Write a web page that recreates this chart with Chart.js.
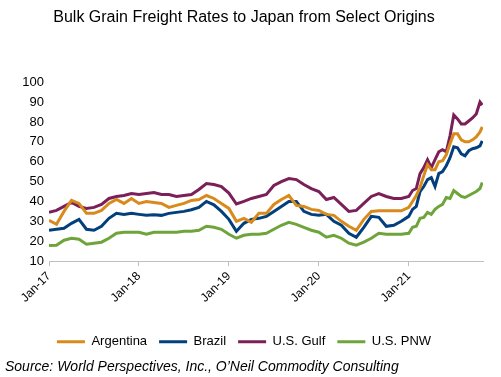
<!DOCTYPE html>
<html>
<head>
<meta charset="utf-8">
<script src="https://cdn.jsdelivr.net/npm/chart.js@4.4.1/dist/chart.umd.min.js"></script>
<style>
  html, body { margin: 0; padding: 0; background: #fff; }
  #wrap { width: 501px; height: 377px; }
</style>
</head>
<body>
<div id="wrap"><canvas id="myChart"></canvas></div>
<script>
// observation dates (monthly to end-2020, then twice a month)
var dates = [
    '2017-01-01','2017-02-01','2017-03-01','2017-04-01','2017-05-01','2017-06-01','2017-07-01','2017-08-01','2017-09-01','2017-10-01','2017-11-01','2017-12-01',
    '2018-01-01','2018-02-01','2018-03-01','2018-04-01','2018-05-01','2018-06-01','2018-07-01','2018-08-01','2018-09-01','2018-10-01','2018-11-01','2018-12-01',
    '2019-01-01','2019-02-01','2019-03-01','2019-04-01','2019-05-01','2019-06-01','2019-07-01','2019-08-01','2019-09-01','2019-10-01','2019-11-01','2019-12-01',
    '2020-01-01','2020-02-01','2020-03-01','2020-04-01','2020-05-01','2020-06-01','2020-07-01','2020-08-01','2020-09-01','2020-10-01','2020-11-01','2020-12-01',
    '2021-01-01','2021-01-16','2021-02-01','2021-02-16','2021-03-01','2021-03-16','2021-04-01','2021-04-16','2021-05-01','2021-05-16',
    '2021-06-01','2021-06-16','2021-07-01','2021-07-16','2021-08-01','2021-08-16','2021-09-01','2021-09-16','2021-10-01','2021-10-16','2021-10-25'
];

var argentina = [
    30.5, 28.5, 35, 40.5, 39, 34, 34, 35.5, 39, 41, 39, 41.5,
    39, 40, 39.5, 39, 37, 38, 39, 40.5, 41, 43, 41.5, 39,
    36.5, 30, 31.5, 29.5, 34, 34, 38.5, 41, 43, 38, 37.5, 36,
    35.5, 33.5, 33, 30, 27.5, 25.5, 31, 35, 35.3, 35.3, 35.3, 35.3,
    37, 40, 43, 47, 53, 58.5, 56, 56, 60, 60.5, 63.5, 69, 74, 74, 71, 70, 70, 71, 72.5, 75, 77.5
];
var brazil = [
    25.5, 26, 26.5, 29, 31, 26, 25.5, 27.5, 31.5, 34, 33.5, 34,
    33.5, 33, 33.3, 33, 34, 34.5, 35, 35.8, 37, 40, 38.3, 35,
    31, 25, 29, 31, 31.5, 32.5, 35, 37.5, 40, 40, 35, 33.5,
    33, 33.5, 30, 28, 24, 22, 27, 32.5, 32, 27.5, 28, 30,
    32.5, 36, 37.5, 45, 47.5, 51, 52, 47.5, 54, 55, 58, 62, 67.5, 67, 64, 63, 65.5, 66.5, 67, 68, 70.5
];
var usGulf = [
    34.6, 35.5, 37.5, 39.5, 37.5, 36.5, 37, 38.5, 41.5, 42.5, 43, 44,
    43.5, 44, 44.5, 43.5, 43.5, 42.5, 43, 43.5, 46, 49, 48.5, 47.5,
    44.2, 38.7, 40, 41.5, 42.5, 43.5, 48, 50, 51.5, 51, 48.5, 46.5,
    45, 41, 42, 38.5, 35, 35.5, 39, 42.5, 44, 42.5, 41.5, 41.5,
    42.5, 45.5, 46.5, 54, 57, 61, 57, 61, 65, 66, 65, 73, 83.5, 81.5, 79, 79, 80.5, 82, 84, 90, 88.5
];
var usPnw = [
    17.8, 18, 20.5, 21.5, 21, 18.5, 19, 19.5, 21.5, 24, 24.5, 24.5,
    24.5, 23.5, 24.5, 24.5, 24.5, 24.5, 25, 25, 25.5, 27.5, 27, 26,
    23.5, 21.5, 23, 23.5, 23.5, 24, 26, 28, 29.5, 28.5, 27, 25.5,
    24.5, 22, 23, 21.5, 19, 18, 19.5, 21.5, 24, 23.5, 23.5, 23.5,
    24, 27, 27.5, 31.5, 32, 34.5, 33.5, 36, 37.5, 38.5, 42, 41.5, 45.5, 44, 42.5, 42, 43, 44, 45, 46.5, 49.5
];

var seriesNames = ['Argentina', 'Brazil', 'U.S. Gulf', 'U.S. PNW'];
var seriesColors = ['#D88B1C', '#023F7C', '#7A1F58', '#6EA43A'];
var yTicks = [10, 20, 30, 40, 50, 60, 70, 80, 90, 100];

// months since Jan-2017
function monthPos(d) {
    var p = d.split('-');
    return (+p[0] - 2017) * 12 + (+p[1] - 1) + (+p[2] - 1) / 30;
}

function toPoints(values) {
    return values.map(function (v, i) { return { x: monthPos(dates[i]), y: v }; });
}

var font = "Arial, 'Liberation Sans', sans-serif";

var ctx = document.getElementById('myChart').getContext('2d');
var myChart = new Chart(ctx, {
    type: 'line',
    data: {
        datasets: [argentina, brazil, usGulf, usPnw].map(function (vals, i) {
            return {
                label: seriesNames[i],
                data: toPoints(vals),
                borderColor: seriesColors[i],
                backgroundColor: seriesColors[i],
                borderWidth: 3,
                pointRadius: 0,
                tension: 0
            };
        })
    },
    options: {
        responsive: true,
        maintainAspectRatio: false,
        animation: false,
        layout: { padding: { left: 5, right: 18, top: 0, bottom: 0 } },
        plugins: {
            title: {
                display: true,
                text: 'Bulk Grain Freight Rates to Japan from Select Origins',
                color: '#000',
                font: { family: font, size: 16, weight: 'normal' },
                padding: { top: 8, bottom: 55 }
            },
            subtitle: {
                display: true,
                position: 'bottom',
                align: 'start',
                text: 'Source: World Perspectives, Inc., O\u2019Neil Commodity Consulting',
                color: '#000',
                font: { family: font, size: 14, style: 'italic' },
                padding: { top: 1, bottom: 1 }
            },
            legend: {
                position: 'bottom',
                labels: {
                    color: '#000',
                    font: { family: font, size: 13 },
                    boxWidth: 28,
                    boxHeight: 3,
                    padding: 12,
                    generateLabels: function (chart) {
                        return Chart.defaults.plugins.legend.labels.generateLabels(chart).map(function (l) {
                            l.lineWidth = 0;
                            return l;
                        });
                    }
                }
            },
            tooltip: { enabled: false }
        },
        scales: {
            x: {
                type: 'linear',
                min: 0,
                max: 57.9,
                afterFit: function (s) { s.height += 15; },
                grid: { drawOnChartArea: false, color: '#BFBFBF', tickLength: 5 },
                border: { color: '#BFBFBF' },
                ticks: {
                    stepSize: 12,
                    includeBounds: false,
                    minRotation: 45,
                    maxRotation: 45,
                    color: '#000',
                    font: { family: font, size: 12 },
                    callback: function (v) { return 'Jan-' + (17 + v / 12); }
                }
            },
            y: {
                min: 10,
                max: 100,
                afterFit: function (s) { s.width = 44; },
                afterBuildTicks: function (s) { s.ticks = yTicks.map(function (v) { return { value: v }; }); },
                grid: { display: false, drawTicks: false },
                border: { display: false },
                ticks: {
                    padding: 5,
                    color: '#000',
                    font: { family: font, size: 13 }
                }
            }
        }
    }
});
</script>
</body>
</html>
